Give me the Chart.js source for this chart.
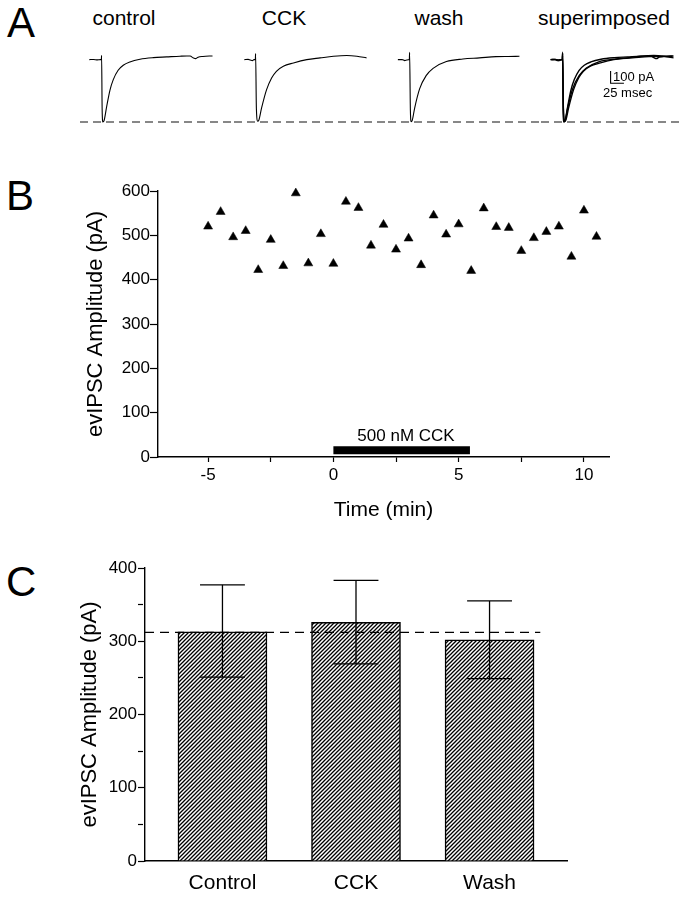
<!DOCTYPE html>
<html lang="en">
<head>
    <meta charset="UTF-8">
    <title>CCK and evIPSC amplitude</title>
    <style>
        body {
            margin: 0;
            background: #fff;
            font-family: "Liberation Sans", Arial, sans-serif;
            color: #000;
        }
        .page {
            position: relative;
            width: 680px;
            height: 900px;
            overflow: hidden;
        }
        .page canvas, .page div {
            position: absolute;
        }
        .panel-letter {
            font-size: 42px;
            line-height: 1;
        }
        .trace-label {
            font-size: 21px;
            line-height: 1;
            transform: translateX(-50%);
            white-space: nowrap;
        }
        .note {
            font-size: 13px;
            line-height: 1;
            white-space: nowrap;
        }
    </style>
</head>
<body>
<div class="page">
    <!-- Panel A: example traces -->
    <div class="panel-letter" style="left:7px; top:2px;">A</div>
    <div class="trace-label" style="left:124px; top:7px;">control</div>
    <div class="trace-label" style="left:284px; top:7px;">CCK</div>
    <div class="trace-label" style="left:439px; top:7px;">wash</div>
    <div class="trace-label" style="left:604px; top:7px;">superimposed</div>
    <canvas id="traceControl" width="153" height="95" style="left:80px; top:40px;"></canvas>
    <canvas id="traceCck" width="153" height="95" style="left:234px; top:40px;"></canvas>
    <canvas id="traceWash" width="153" height="95" style="left:388px; top:40px;"></canvas>
    <canvas id="traceSuper" width="153" height="95" style="left:541px; top:40px;"></canvas>
    <div class="note" style="left:613px; top:70px;">100 pA</div>
    <div class="note" style="left:603px; top:86px;">25 msec</div>

    <!-- Panel B: time course -->
    <div class="panel-letter" style="left:6px; top:175px;">B</div>
    <canvas id="chartB" width="680" height="390" style="left:0; top:150px;"></canvas>
    <div class="trace-label" style="left:406px; top:427px; font-size:17px;">500 nM CCK</div>

    <!-- Panel C: group means -->
    <div class="panel-letter" style="left:6px; top:561px;">C</div>
    <canvas id="chartC" width="680" height="355" style="left:0; top:545px;"></canvas>
</div>

<script src="https://cdn.jsdelivr.net/npm/chart.js"></script>
<script>
    // ---- Panel A: traces, time (ms) from stimulus and current (pA) from baseline
    const ctrlT = [-23, -15, -8, -2, -0.5, 0, 1, 2.5, 4.5, 9.4, 15.6, 21.9, 31, 40.6, 53, 72, 97, 122, 147, 160, 166, 172, 176, 181, 190, 208];
    const ctrlI = [0, 1, -2, 0, 0, 35, -400, -509, -500, -386, -250, -163, -87, -46, -19, 3, 16, 22, 28, 30, 29, 14, 8, 20, 26, 30];
    const cckT = [-21, -14, -10, -6, -3, -0.5, 0, 1.5, 4, 6, 11.25, 20.6, 30, 39, 52, 71, 96, 121, 146, 171, 190, 208];
    const cckI = [0, 2, -3, -8, 0, 0, 49, -400, -503, -495, -394, -245, -150, -95, -54, -27, 0, 14, 27, 33, 27, 14];
    const washT = [-22, -14, -9, -5, -0.5, 0, 1.5, 3, 5, 9.4, 18.75, 31, 44, 69, 100, 131, 162, 185, 206];
    const washI = [0, 0, -8, -3, 0, 60, -420, -506, -495, -397, -239, -131, -71, -16, 5, 14, 24, 26, 27];
    const tracePeak = -509;          // dashed reference at control peak
    const scaleBarT = 90;            // scale bar corner (ms)
    const scaleBarI = -193;          // scale bar corner (pA)
    const scaleBarPA = 100;
    const scaleBarMs = 25;

    // ---- Panel B: amplitude vs time
    const bTime = [-5, -4.5, -4, -3.5, -3, -2.5, -2, -1.5, -1, -0.5, 0, 0.5, 1, 1.5, 2, 2.5,
                   3, 3.5, 4, 4.5, 5, 5.5, 6, 6.5, 7, 7.5, 8, 8.5, 9, 9.5, 10, 10.5];
    const bAmp = [520, 553, 496, 510, 422, 490, 431, 595, 437, 503, 436, 576, 562, 477, 524, 468,
                  493, 433, 545, 502, 525, 420, 561, 519, 517, 465, 494, 508, 520, 452, 556, 497];
    const bTimeTicks = [-5, -2.5, 0, 2.5, 5, 7.5, 10];
    const cckOn = 0;
    const cckOff = 5.45;
    const cckBarLevel = 15;

    // ---- Panel C: means +/- error
    const groupNames = ['Control', 'CCK', 'Wash'];
    const groupMeans = [313, 326, 302];
    const groupHigh = [377, 383, 355];
    const groupLow = [251, 269, 249];
    const dashSpan = [0.42, 3.38];

    Chart.defaults.font.family = '"Liberation Sans", Arial, sans-serif';
    Chart.defaults.color = '#000';

    function pts(xs, ys) {
        return xs.map((x, i) => ({ x: x, y: ys[i] }));
    }

    // Trace panels share the same axes so the scale bar applies to all
    function makeTraceChart(id, traces, withScaleBar) {
        const datasets = traces.map(tr => ({
            data: pts(tr[0], tr[1]),
            showLine: true,
            pointRadius: 0,
            borderColor: '#000',
            borderWidth: withScaleBar ? 1.4 : 1.1,
            cubicInterpolationMode: 'monotone',
            clip: false
        }));
        datasets.push({
            data: [{ x: -40.5, y: tracePeak }, { x: 246.4, y: tracePeak }],
            showLine: true, pointRadius: 0, borderColor: '#111', borderWidth: 1.2, borderDash: [8, 5]
        });
        if (withScaleBar) {
            datasets.push({
                data: [{ x: scaleBarT, y: scaleBarI + scaleBarPA }, { x: scaleBarT, y: scaleBarI },
                       { x: scaleBarT + scaleBarMs, y: scaleBarI }],
                showLine: true, pointRadius: 0, borderColor: '#000', borderWidth: 1.1
            });
        }
        new Chart(document.getElementById(id), {
            type: 'scatter',
            data: { datasets: datasets },
            options: {
                responsive: false,
                animation: false,
                events: [],
                layout: { padding: 0 },
                plugins: { legend: { display: false }, tooltip: { enabled: false } },
                scales: {
                    x: { type: 'linear', display: false, min: -40.5, max: 246.4 },
                    y: { type: 'linear', display: false, min: -615, max: 160 }
                }
            }
        });
    }

    makeTraceChart('traceControl', [[ctrlT, ctrlI]], false);
    makeTraceChart('traceCck', [[cckT, cckI]], false);
    makeTraceChart('traceWash', [[washT, washI]], false);
    makeTraceChart('traceSuper', [[ctrlT, ctrlI], [cckT, cckI], [washT, washI]], true);

    // Minor ticks: draw only the first few px of the tick line
    const minorDash = (step, len) => ctx => (ctx.tick && ctx.tick.value % step === 0) ? [] : [len, 40];

    new Chart(document.getElementById('chartB'), {
        type: 'scatter',
        data: {
            datasets: [
                {
                    data: pts(bTime, bAmp),
                    pointStyle: 'triangle',
                    pointRadius: 5.2,
                    backgroundColor: '#000',
                    borderColor: '#000',
                    borderWidth: 0.5,
                    clip: false
                },
                {
                    data: [{ x: cckOn, y: cckBarLevel }, { x: cckOff, y: cckBarLevel }],
                    showLine: true,
                    pointRadius: 0,
                    borderColor: '#000',
                    borderWidth: 8,
                    borderCapStyle: 'butt'
                }
            ]
        },
        options: {
            responsive: false,
            animation: false,
            events: [],
            layout: { padding: { left: 83, right: 71, top: 41, bottom: 17 } },
            plugins: { legend: { display: false }, tooltip: { enabled: false } },
            scales: {
                x: {
                    type: 'linear', min: -7, max: 11,
                    afterBuildTicks: s => { s.ticks = bTimeTicks.map(v => ({ value: v })); },
                    afterFit: s => { s.height = 66; },
                    border: { color: '#000', width: 1.4 },
                    grid: { drawOnChartArea: false, tickLength: 5, tickColor: '#000', tickWidth: 1.2 },
                    ticks: {
                        font: { size: 17 }, padding: 3, maxRotation: 0, autoSkip: false,
                        callback: v => (v % 5 === 0 ? String(v) : '')
                    },
                    title: { display: true, text: 'Time (min)', font: { size: 21 }, padding: 0 }
                },
                y: {
                    type: 'linear', min: 0, max: 600,
                    afterFit: s => { s.width = 75; },
                    border: { color: '#000', width: 1.4 },
                    grid: {
                        drawOnChartArea: false, tickLength: 8, tickColor: '#000', tickWidth: 1.2,
                        tickBorderDash: minorDash(100, 4)
                    },
                    ticks: {
                        stepSize: 50, font: { size: 17 }, padding: 0,
                        callback: v => (v % 100 === 0 ? String(v) : '')
                    },
                    title: { display: true, text: 'evIPSC Amplitude (pA)', font: { size: 22 }, padding: 0 }
                }
            }
        }
    });

    // Diagonal hatch fill for the bars
    function makeHatch() {
        const c = document.createElement('canvas');
        c.width = 4; c.height = 4;
        const g = c.getContext('2d');
        g.fillStyle = '#fff';
        g.fillRect(0, 0, 4, 4);
        g.strokeStyle = '#000';
        g.lineWidth = 1.3;
        g.beginPath();
        g.moveTo(-1, 5); g.lineTo(5, -1);
        g.moveTo(-1, 1); g.lineTo(1, -1);
        g.moveTo(3, 5); g.lineTo(5, 3);
        g.stroke();
        return g.createPattern(c, 'repeat');
    }

    const capHalf = 0.168;
    const errorSets = [];
    groupNames.forEach((name, i) => {
        const x = i + 1;
        [
            [{ x: x, y: groupLow[i] }, { x: x, y: groupHigh[i] }],
            [{ x: x - capHalf, y: groupHigh[i] }, { x: x + capHalf, y: groupHigh[i] }],
            [{ x: x - capHalf, y: groupLow[i] }, { x: x + capHalf, y: groupLow[i] }]
        ].forEach(seg => errorSets.push({
            type: 'line', data: seg, borderColor: '#000', borderWidth: 1.3,
            pointRadius: 0, order: 1
        }));
    });

    new Chart(document.getElementById('chartC'), {
        type: 'bar',
        data: {
            datasets: [
                {
                    type: 'bar',
                    data: groupNames.map((n, i) => ({ x: i + 1, y: groupMeans[i] })),
                    backgroundColor: makeHatch(),
                    borderColor: '#000',
                    borderWidth: 1.5,
                    barThickness: 89,
                    order: 2
                },
                ...errorSets,
                {
                    type: 'line',
                    data: [{ x: dashSpan[0], y: groupMeans[0] - 1 }, { x: dashSpan[1], y: groupMeans[0] - 1 }],
                    borderColor: '#000', borderWidth: 1.2, borderDash: [9, 6],
                    pointRadius: 0, order: 0
                }
            ]
        },
        options: {
            responsive: false,
            animation: false,
            events: [],
            layout: { padding: { left: 77, right: 113, top: 23, bottom: 0 } },
            plugins: { legend: { display: false }, tooltip: { enabled: false } },
            scales: {
                x: {
                    type: 'linear', min: 0.42, max: 3.58, offset: false,
                    afterBuildTicks: s => { s.ticks = groupNames.map((n, i) => ({ value: i + 1 })); },
                    afterFit: s => { s.height = 39; },
                    border: { color: '#000', width: 1.4 },
                    grid: { display: true, drawOnChartArea: false, drawTicks: false, offset: false },
                    ticks: {
                        font: { size: 21 }, padding: 10, maxRotation: 0, autoSkip: false,
                        callback: v => groupNames[Math.round(v) - 1]
                    }
                },
                y: {
                    type: 'linear', min: 0, max: 400,
                    afterFit: s => { s.width = 68; },
                    border: { color: '#000', width: 1.4 },
                    grid: {
                        drawOnChartArea: false, tickLength: 7, tickColor: '#000', tickWidth: 1.2,
                        tickBorderDash: minorDash(100, 5)
                    },
                    ticks: {
                        stepSize: 50, font: { size: 17 }, padding: 1,
                        callback: v => (v % 100 === 0 ? String(v) : '')
                    },
                    title: { display: true, text: 'evIPSC Amplitude (pA)', font: { size: 22 }, padding: 0 }
                }
            }
        }
    });
</script>
</body>
</html>
